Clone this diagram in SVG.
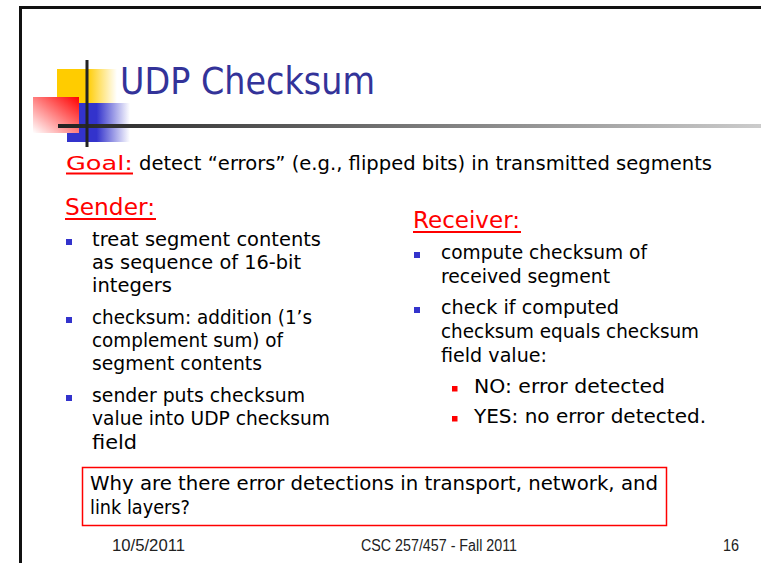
<svg xmlns="http://www.w3.org/2000/svg" width="761" height="563" viewBox="0 0 761 563">
<defs>
<linearGradient id="gy" x1="0" y1="0" x2="1" y2="0"><stop offset="0.5" stop-color="#FFCC00"/><stop offset="1" stop-color="#FFCC00" stop-opacity="0"/></linearGradient>
<linearGradient id="gb" x1="0" y1="0" x2="1" y2="0"><stop offset="0.47" stop-color="#3333CC"/><stop offset="1" stop-color="#3333CC" stop-opacity="0"/></linearGradient>
<linearGradient id="gr" x1="1" y1="0" x2="0" y2="1"><stop offset="0" stop-color="#FF0000"/><stop offset="1" stop-color="#FFFFFF"/></linearGradient>
<linearGradient id="gl" x1="0" y1="0" x2="1" y2="0"><stop offset="0" stop-color="#222222"/><stop offset="1" stop-color="#CCCCCC"/></linearGradient>
</defs>
<style>
.c{font-family:"Comic Sans MS","DejaVu Sans",sans-serif;fill:#000}
.b{font-size:19px}
.h{font-size:23px;fill:#FF0000}
.t{font-size:37px;fill:#333399}
.f{font-family:"Liberation Sans Narrow","Liberation Sans",Arial,sans-serif;font-size:16px;fill:#222}
.bb{fill:#3333CC}
.rb{fill:#FF0000}
.ul{stroke:#FF0000;stroke-width:2}
</style>
<rect width="761" height="563" fill="#fff"/>
<rect x="20.5" y="7.5" width="800" height="600" fill="none" stroke="#111" stroke-width="3"/>
<g id="decoration">
<rect x="57" y="69" width="60" height="34" fill="url(#gy)"/>
<rect x="67" y="103" width="63" height="39" fill="url(#gb)"/>
<rect x="33" y="97" width="46" height="36" fill="url(#gr)"/>
<rect x="58" y="124" width="703" height="4" fill="url(#gl)"/>
<rect x="85.5" y="60" width="3" height="87" fill="#222"/>
</g>
<g id="title"><text class="c t" x="120" y="94" textLength="255" lengthAdjust="spacingAndGlyphs">UDP Checksum</text></g>
<g id="goal">
<text class="c" style="font-size:20px;fill:#FF0000" x="66" y="170" textLength="67" lengthAdjust="spacingAndGlyphs">Goal:</text>
<line class="ul" x1="66" y1="173.5" x2="133" y2="173.5"/>
<text class="c" style="font-size:20px" x="139" y="170" textLength="573" lengthAdjust="spacingAndGlyphs">detect “errors” (e.g., flipped bits) in transmitted segments</text>
</g>
<g id="sender">
<text class="c h" x="65" y="215" textLength="90" lengthAdjust="spacingAndGlyphs">Sender:</text>
<line class="ul" x1="65" y1="219" x2="156" y2="219"/>
<rect class="bb" x="66" y="239" width="6" height="6"/>
<rect class="bb" x="66" y="317" width="6" height="6"/>
<rect class="bb" x="66" y="395" width="6" height="6"/>
<text class="c b" x="92" y="246" textLength="229" lengthAdjust="spacingAndGlyphs">treat segment contents</text>
<text class="c b" x="92" y="269" textLength="209" lengthAdjust="spacingAndGlyphs">as sequence of 16-bit</text>
<text class="c b" x="92" y="292" textLength="80" lengthAdjust="spacingAndGlyphs">integers</text>
<text class="c b" x="92" y="324" textLength="220" lengthAdjust="spacingAndGlyphs">checksum: addition (1’s</text>
<text class="c b" x="92" y="347" textLength="191" lengthAdjust="spacingAndGlyphs">complement sum) of</text>
<text class="c b" x="92" y="370" textLength="170" lengthAdjust="spacingAndGlyphs">segment contents</text>
<text class="c b" x="92" y="402" textLength="213" lengthAdjust="spacingAndGlyphs">sender puts checksum</text>
<text class="c b" x="92" y="425" textLength="238" lengthAdjust="spacingAndGlyphs">value into UDP checksum</text>
<text class="c b" x="92" y="449" textLength="45" lengthAdjust="spacingAndGlyphs">field</text>
</g>
<g id="receiver">
<text class="c h" x="413" y="228" textLength="107" lengthAdjust="spacingAndGlyphs">Receiver:</text>
<line class="ul" x1="413" y1="232" x2="521" y2="232"/>
<rect class="bb" x="414" y="252" width="6" height="6"/>
<rect class="bb" x="414" y="307" width="6" height="6"/>
<text class="c b" x="441" y="259" textLength="206" lengthAdjust="spacingAndGlyphs">compute checksum of</text>
<text class="c b" x="441" y="283" textLength="169" lengthAdjust="spacingAndGlyphs">received segment</text>
<text class="c b" x="441" y="314" textLength="178" lengthAdjust="spacingAndGlyphs">check if computed</text>
<text class="c b" x="441" y="338" textLength="258" lengthAdjust="spacingAndGlyphs">checksum equals checksum</text>
<text class="c b" x="441" y="362" textLength="106" lengthAdjust="spacingAndGlyphs">field value:</text>
<rect class="rb" x="452" y="386" width="5.5" height="5.5"/>
<rect class="rb" x="452" y="416" width="5.5" height="5.5"/>
<text class="c b" x="474" y="393" textLength="191" lengthAdjust="spacingAndGlyphs">NO: error detected</text>
<text class="c b" x="474" y="423" textLength="232" lengthAdjust="spacingAndGlyphs">YES: no error detected.</text>
</g>
<g id="question">
<rect x="82.5" y="467.5" width="584" height="58" fill="none" stroke="#FF0000" stroke-width="1.5"/>
<text class="c b" x="90" y="490" textLength="568" lengthAdjust="spacingAndGlyphs">Why are there error detections in transport, network, and</text>
<text class="c b" x="90" y="514" textLength="100" lengthAdjust="spacingAndGlyphs">link layers?</text>
</g>
<g id="footer">
<text class="f" x="112" y="551" textLength="73" lengthAdjust="spacingAndGlyphs">10/5/2011</text>
<text class="f" x="361" y="551" textLength="156" lengthAdjust="spacingAndGlyphs">CSC 257/457 - Fall 2011</text>
<text class="f" x="723" y="551" textLength="16" lengthAdjust="spacingAndGlyphs">16</text>
</g>
</svg>
